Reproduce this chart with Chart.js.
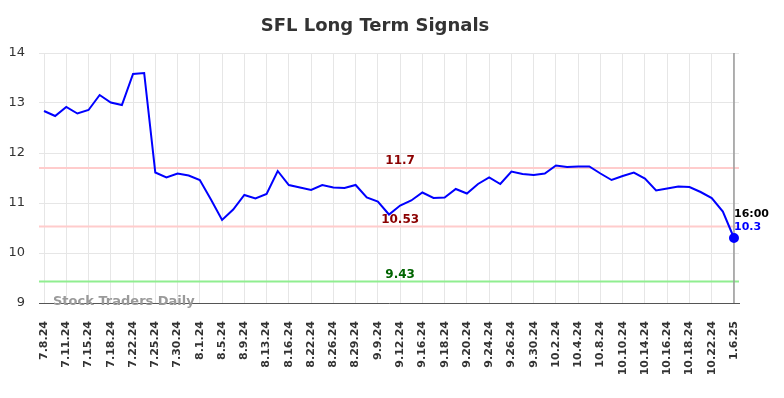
<!DOCTYPE html>
<html>
<head>
<meta charset="utf-8">
<script src="https://cdn.jsdelivr.net/npm/chart.js@4/dist/chart.umd.min.js"></script>
<style>
  html, body { margin: 0; padding: 0; background: #fff; }
  #wrap { width: 784px; height: 398px; position: relative; }
</style>
</head>
<body>
<div id="wrap"><canvas id="chart"></canvas></div>
<script>
// tick labels shown on the x axis (one every second trading day)
var tickLabels = ['7.8.24','7.11.24','7.15.24','7.18.24','7.22.24','7.25.24','7.30.24','8.1.24',
    '8.5.24','8.9.24','8.13.24','8.16.24','8.22.24','8.26.24','8.29.24','9.9.24','9.12.24',
    '9.16.24','9.18.24','9.20.24','9.24.24','9.26.24','9.30.24','10.2.24','10.4.24','10.8.24',
    '10.10.24','10.14.24','10.16.24','10.18.24','10.22.24','1.6.25'];

// closing prices
var closes = [12.84, 12.74, 12.92, 12.79, 12.86, 13.16, 13.01, 12.96, 13.58, 13.60,
    11.61, 11.51, 11.59, 11.55, 11.46, 11.07, 10.66, 10.87, 11.16, 11.09,
    11.18, 11.64, 11.36, 11.31, 11.26, 11.36, 11.31, 11.30, 11.36, 11.11,
    11.03, 10.77, 10.95, 11.05, 11.21, 11.10, 11.11, 11.28, 11.19, 11.38,
    11.51, 11.38, 11.63, 11.58, 11.56, 11.59, 11.75, 11.72, 11.73, 11.73,
    11.59, 11.46, 11.54, 11.61, 11.49, 11.25, 11.29, 11.33, 11.32, 11.22,
    11.10, 10.83, 10.30];

var signalLevels = [11.7, 10.53, 9.43];
var signalColors = ['#ffcccc', '#ffcccc', '#90ee90'];
var signalTextColors = ['#8b0000', '#8b0000', '#006400'];
var yTicks = [9, 10, 11, 12, 13, 14];
var lastTime = '16:00';
var lastIdx = closes.length - 1;

var points = [];
for (let i = 0; i < closes.length; i++) {
    points.push({x: i, y: closes[i]});
}

var font = 'DejaVu Sans';

var overlay = {
    id: 'overlay',
    beforeDatasetsDraw: function(chart) {
        let c = chart.ctx, a = chart.chartArea, ys = chart.scales.y, xs = chart.scales.x;
        c.save();
        // signal lines
        for (let i = 0; i < signalLevels.length; i++) {
            let y = ys.getPixelForValue(signalLevels[i]);
            c.strokeStyle = signalColors[i];
            c.lineWidth = 2;
            c.beginPath();
            c.moveTo(a.left, y);
            c.lineTo(a.right, y);
            c.stroke();
        }
        // marker for last bar
        let lx = xs.getPixelForValue(lastIdx);
        c.strokeStyle = '#999';
        c.lineWidth = 1.5;
        c.beginPath();
        c.moveTo(lx, a.top);
        c.lineTo(lx, a.bottom);
        c.stroke();
        c.restore();
    },
    afterDraw: function(chart) {
        let c = chart.ctx, a = chart.chartArea, ys = chart.scales.y, xs = chart.scales.x;
        c.save();
        // title
        c.fillStyle = '#333';
        c.font = 'bold 18px ' + font;
        c.textAlign = 'center';
        c.textBaseline = 'middle';
        c.fillText('SFL Long Term Signals', 375, 26);

        // level labels
        c.font = 'bold 12px ' + font;
        let cx = xs.getPixelForValue(32);
        for (let i = 0; i < signalLevels.length; i++) {
            c.fillStyle = signalTextColors[i];
            c.fillText(String(signalLevels[i]), cx, ys.getPixelForValue(signalLevels[i]) - 7);
        }

        // last value labels
        let lx = xs.getPixelForValue(lastIdx);
        let ly = ys.getPixelForValue(closes[lastIdx]);
        c.textAlign = 'left';
        c.font = 'bold 11px ' + font;
        c.fillStyle = '#000';
        c.fillText(lastTime, lx, ly - 24);
        c.fillStyle = '#0000ff';
        c.fillText(String(closes[lastIdx]), lx, ly - 11);

        // watermark
        c.font = 'bold 13px ' + font;
        c.fillStyle = '#9a9a9a';
        c.textAlign = 'left';
        c.fillText('Stock Traders Daily', a.left + 14, a.bottom - 1);
        c.restore();
    }
};

var ctx = document.getElementById('chart');
var myChart = new Chart(ctx, {
    type: 'line',
    data: {
        datasets: [{
            data: points,
            borderColor: '#0000ff',
            backgroundColor: '#0000ff',
            borderWidth: 2,
            tension: 0,
            pointRadius: function(c) { return c.dataIndex === lastIdx ? 4 : 0; },
            pointHoverRadius: 0
        }]
    },
    options: {
        responsive: true,
        maintainAspectRatio: false,
        animation: false,
        events: [],
        layout: { padding: { top: 53, right: 45, left: 0, bottom: 0 } },
        plugins: { legend: { display: false }, tooltip: { enabled: false } },
        scales: {
            x: {
                type: 'linear',
                min: -0.45,
                max: lastIdx + 0.45,
                afterBuildTicks: function(scale) {
                    scale.ticks = tickLabels.map(function(t, i) { return {value: i * 2}; });
                },
                afterFit: function(scale) { scale.height = 95; },
                grid: { color: '#e6e6e6', drawTicks: false },
                border: { color: '#555', width: 1 },
                ticks: {
                    autoSkip: false,
                    minRotation: 90,
                    maxRotation: 90,
                    padding: 18,
                    color: '#333',
                    font: { family: font, size: 11, weight: 'bold' },
                    callback: function(v) { return tickLabels[v / 2]; }
                }
            },
            y: {
                min: 9,
                max: 14,
                afterBuildTicks: function(scale) {
                    scale.ticks = yTicks.map(function(v) { return {value: v}; });
                },
                afterFit: function(scale) { scale.width = 39; },
                grid: { color: '#e6e6e6', drawTicks: false },
                border: { display: false },
                ticks: {
                    padding: 14,
                    color: '#333',
                    font: { family: font, size: 13 }
                }
            }
        }
    },
    plugins: [overlay]
});
</script>
</body>
</html>
